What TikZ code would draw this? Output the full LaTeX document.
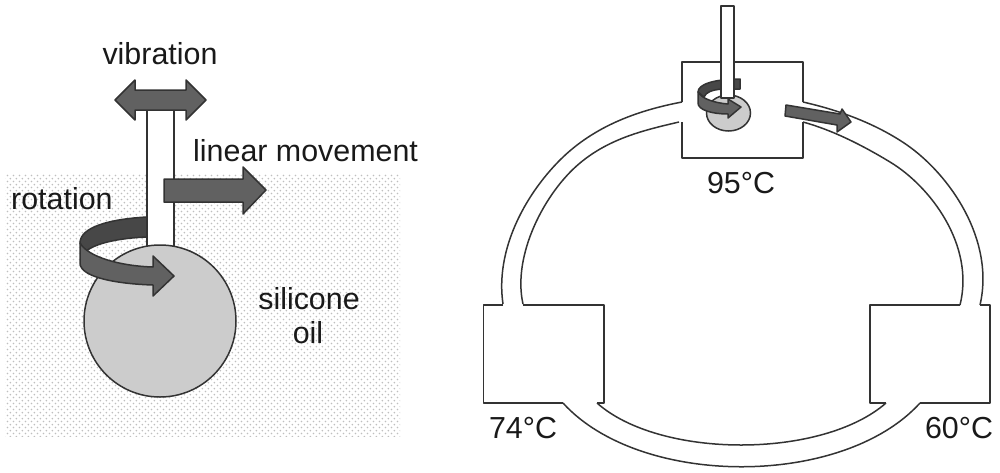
\documentclass[tikz,border=0pt]{standalone}
\usepackage{fontspec}
\setmainfont{Liberation Sans}
\usetikzlibrary{patterns}
\pgfdeclarepatternformonly{oilDots}{\pgfpointorigin}{\pgfpoint{6.4pt}{6.4pt}}{\pgfpoint{6.4pt}{6.4pt}}{
  \pgfpathcircle{\pgfpoint{1.6pt}{1.6pt}}{1.0pt}
  \pgfpathcircle{\pgfpoint{4.8pt}{4.8pt}}{1.0pt}
  \pgfusepath{fill}
}
\tikzset{
  lbl/.style={font=\fontsize{30.4}{34}\selectfont, inner sep=0pt, text=black!90},
  wall/.style={draw=black!80, line width=1.5pt, line join=round},
  arrowfill/.style={draw=black!80, fill=black!62, line width=1.5pt, line join=round},
  backfill/.style={draw=black!80, fill=black!72, line width=1.5pt, line join=round},
}
\begin{document}
\begin{tikzpicture}[x=1pt,y=-1pt]
\useasboundingbox (0,0) rectangle (1000,472);
% left: silicone oil
\fill[pattern=oilDots, pattern color=black!25] (5,174) rectangle (400,436);
% back of rotation band
\path[backfill] (147,217) .. controls (110,219) and (80,227) .. (80,243) -- (85,252) .. controls (95,243) and (120,238) .. (147,237) -- cycle;
% rod
\path[wall, fill=white] (147,110) rectangle (174,250);
% ball
\node[wall, fill=black!20, circle, minimum size=152pt, inner sep=0pt] (ball) at (160,321) {};
% vibration arrow
\path[arrowfill] (115,100) -- (135,80) -- (135,90) -- (186,90) -- (186,80) -- (206,100) -- (186,120) -- (186,110) -- (135,110) -- (135,120) -- cycle;
% linear arrow
\path[arrowfill] (164,179) -- (243,179) -- (243,167) -- (266,190) -- (243,214) -- (243,202) -- (164,202) -- cycle;
% rotation arrow front
\path[arrowfill] (80,243) .. controls (88,257) and (120,266) .. (153,267) -- (153,256) -- (174,276) -- (153,296) -- (153,285) .. controls (120,284) and (80,278) .. (80,263) -- cycle;
% labels left
\node[lbl] (vib) at (160,54) {vibration};
\node[lbl, anchor=west] (lin) at (193,151) {linear movement};
\node[lbl, anchor=west] (rot) at (11,199) {rotation};
\node[lbl] (sil) at (309,299) {silicone};
\node[lbl] (oil) at (308,333) {oil};
% right: upper pipes
\draw[wall] (503,304) .. controls (495,250) and (525,195) .. (560,160) .. controls (595,125) and (640,110) .. (682,102);
\draw[wall] (523,304) .. controls (512,255) and (545,192) .. (580,163) .. controls (610,138) and (645,130) .. (679,122);
\draw[wall] (803,102) .. controls (838,110) and (875,123) .. (907,145) .. controls (950,175) and (995,240) .. (980,305);
\draw[wall] (803,122) .. controls (832,130) and (862,145) .. (890,162) .. controls (930,186) and (975,245) .. (960,305);
% right: lower pipes
\draw[wall] (563,403) .. controls (640,488) and (843,488) .. (920,403);
\draw[wall] (597,403) .. controls (660,459) and (822,459) .. (886,403);
% right: boxes
\draw[wall] (682,102) -- (682,62) -- (803,62) -- (803,102);
\draw[wall] (803,122) -- (803,158) -- (682,158) -- (682,122);
\draw[wall] (503,305) -- (483.5,305) -- (483.5,403) -- (563,403);
\draw[wall] (597,403) -- (604,403) -- (604,305) -- (523,305);
\draw[wall] (960,305) -- (870,305) -- (870,403) -- (886,403);
\draw[wall] (920,403) -- (990,403) -- (990,305) -- (980,305);
% right: stirrer
\path[wall, fill=black!20] (728.5,113) ellipse [x radius=22, y radius=18];
\path[backfill] (740,79) -- (740,89) -- (722,89) .. controls (712,90) and (706,92) .. (704,97) -- (698,92) .. controls (698,84) and (715,79) .. (740,79) -- cycle;
\path[wall, fill=white] (721,6) rectangle (734,98);
\path[arrowfill] (698,92) .. controls (702,99) and (715,103) .. (728,104) -- (728,99) -- (741,107) -- (728,118) -- (728,114) .. controls (712,114) and (698,110) .. (698,103) -- cycle;
\path[arrowfill] (786,105) -- (840,114) -- (842,109) -- (851,122) -- (837,132) -- (837,125) -- (785,116) -- cycle;
% labels right
\node[lbl] (t95) at (741,183) {95°C};
\node[lbl] (t74) at (523,428) {74°C};
\node[lbl] (t60) at (959,428) {60°C};
\end{tikzpicture}
\end{document}
